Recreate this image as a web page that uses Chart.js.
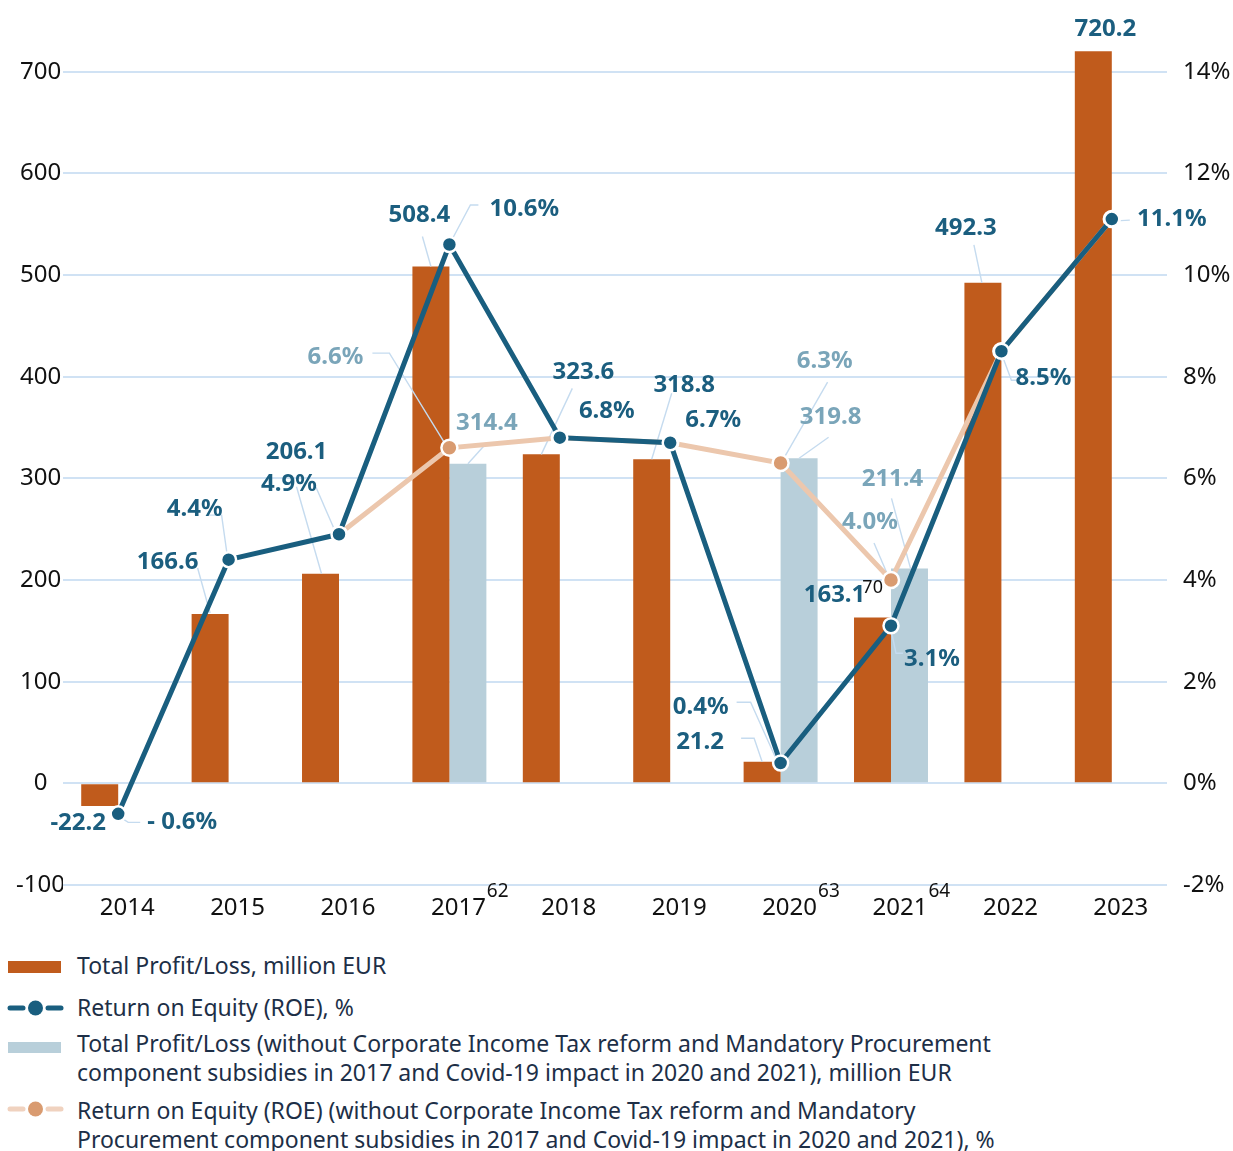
<!DOCTYPE html>
<html>
<head>
<meta charset="utf-8">
<title>Total Profit/Loss and Return on Equity 2014–2023</title>
<script src="https://cdn.jsdelivr.net/npm/chart.js@4/dist/chart.umd.min.js"></script>
<style>
  html, body { margin: 0; padding: 0; background: #fff; }
  body { width: 1233px; height: 1151px; position: relative; overflow: hidden; font-family: "Noto Sans", sans-serif; }
  #chartBox { position: absolute; left: 0; top: 0; width: 1233px; height: 930px; }
  .legend { position: absolute; left: 0; top: 0; width: 1233px; color: #1d2f47; font-size: 23px; line-height: 29px; }
  .item { position: absolute; left: 0; }
  .item .txt { position: absolute; left: 77px; white-space: nowrap; }
  .item svg { position: absolute; left: 0; }
</style>
</head>
<body>
<div id="chartBox"><canvas id="chart" width="1233" height="930"></canvas></div>

<div class="legend">
  <div class="item" style="top:951px">
    <svg width="70" height="29"><rect x="8" y="10" width="53" height="12" fill="#c05b1c"/></svg>
    <div class="txt">Total Profit/Loss, million EUR</div>
  </div>
  <div class="item" style="top:993px">
    <svg width="70" height="29">
      <line x1="10" y1="15" x2="23" y2="15" stroke="#195e7f" stroke-width="5" stroke-linecap="round"/>
      <line x1="48" y1="15" x2="61" y2="15" stroke="#195e7f" stroke-width="5" stroke-linecap="round"/>
      <circle cx="35.5" cy="15" r="7.5" fill="#195e7f"/>
    </svg>
    <div class="txt">Return on Equity (ROE), %</div>
  </div>
  <div class="item" style="top:1029px">
    <svg width="70" height="29"><rect x="8" y="13" width="53" height="11" fill="#b8cfda"/></svg>
    <div class="txt">Total Profit/Loss (without Corporate Income Tax reform and Mandatory Procurement<br>component subsidies in 2017 and Covid-19 impact in 2020 and 2021), million EUR</div>
  </div>
  <div class="item" style="top:1096px">
    <svg width="70" height="29">
      <line x1="10" y1="13" x2="23" y2="13" stroke="#f0d2bf" stroke-width="5" stroke-linecap="round"/>
      <line x1="48" y1="13" x2="61" y2="13" stroke="#f0d2bf" stroke-width="5" stroke-linecap="round"/>
      <circle cx="35.5" cy="13" r="7.5" fill="#d99b70"/>
    </svg>
    <div class="txt">Return on Equity (ROE) (without Corporate Income Tax reform and Mandatory<br>Procurement component subsidies in 2017 and Covid-19 impact in 2020 and 2021), %</div>
  </div>
</div>

<script>
// ---- data ----
const years = ['2014', '2015', '2016', '2017', '2018', '2019', '2020', '2021', '2022', '2023'];
const yearNotes = ['', '', '', '62', '', '', '63', '64', '', ''];
const profit = [-22.2, 166.6, 206.1, 508.4, 323.6, 318.8, 21.2, 163.1, 492.3, 720.2];
const profitAdjusted = [null, null, null, 314.4, null, null, 319.8, 211.4, null, null];
const roe = [-0.6, 4.4, 4.9, 10.6, 6.8, 6.7, 0.4, 3.1, 8.5, 11.1];
const roeAdjusted = [null, null, 4.9, 6.6, 6.8, 6.7, 6.3, 4.0, 8.5, 11.1];
const profitTicks = [-100, 0, 100, 200, 300, 400, 500, 600, 700];
const roeTicks = [-2, 0, 2, 4, 6, 8, 10, 12, 14];
const footnote2021Profit = '70';

// ---- colours & fonts ----
const C = {
  orange: '#c05b1c',
  lightBar: '#b8cfda',
  roe: '#195e7f',
  roeAdj: '#ecc7ad',
  roeAdjPoint: '#d99b70',
  labelDark: '#1b5e7f',
  labelLight: '#7aa5b9',
  leader: '#c5dbef',
  grid: '#d0e2f4',
  tick: '#111111'
};
const FONT = '"Noto Sans", sans-serif';
const TICK_SIZE = 24;
const LABEL_SIZE = 24;

// Label placement: offsets (px) from the element anchor; leader = polyline offsets.
const labelPlacement = [
  // Total Profit/Loss (dataset 0)
  { ds: 0, i: 0, dx: -21.5, dy: 17 },
  { ds: 0, i: 1, dx: -42.5, dy: -52, lead: [[-12.5, -46], [0, -1]] },
  { ds: 0, i: 2, dx: -24, dy: -122, lead: [[-24, -87], [1, 0]] },
  { ds: 0, i: 3, dx: -11.5, dy: -51, lead: [[-8.5, -30], [0, 0]] },
  { ds: 0, i: 4, dx: 42, dy: -82, lead: [[31, -66], [0, 0]] },
  { ds: 0, i: 5, dx: 32.5, dy: -74, lead: [[20, -66], [0, 0]] },
  { ds: 0, i: 6, dx: -62, dy: -19.5, lead: [[-21, -23.5], [-8, -23.5], [0, 0]] },
  { ds: 0, i: 7, dx: -38, dy: -22, note: footnote2021Profit },
  { ds: 0, i: 8, dx: -17, dy: -55, lead: [[-9, -38], [-1, 0]] },
  { ds: 0, i: 9, dx: 12, dy: -22 },
  // adjusted profit (dataset 1)
  { ds: 1, i: 3, dx: 19, dy: -41, lead: [[0, 0], [18, -20]] },
  { ds: 1, i: 6, dx: 31.5, dy: -41, lead: [[29.5, -21], [0, 0]] },
  { ds: 1, i: 7, dx: -17, dy: -89, lead: [[-18, -70], [1, 0]] },
  // ROE (dataset 2)
  { ds: 2, i: 0, dx: 64, dy: 8.5, lead: [[0, 2], [10, 8.5], [22, 8.5]] },
  { ds: 2, i: 1, dx: -34, dy: -50.5, lead: [[-21, -44.5], [-7, -44.5], [-1, -1.5]] },
  { ds: 2, i: 2, dx: -50, dy: -50, lead: [[-23, -47], [-3, -1]] },
  { ds: 2, i: 3, dx: 75, dy: -35.5, lead: [[29, -39.5], [21, -39.5], [0, 0]] },
  { ds: 2, i: 4, dx: 47, dy: -26.6 },
  { ds: 2, i: 5, dx: 43, dy: -22.6 },
  { ds: 2, i: 6, dx: -80, dy: -55.7, lead: [[-44, -60.7], [-30, -60.7], [-4, -3]] },
  { ds: 2, i: 7, dx: 41, dy: 33.5, lead: [[0, 4], [5, 27.5], [12, 27.5]] },
  { ds: 2, i: 8, dx: 42, dy: 27, lead: [[0, 2], [10, 29], [15, 29]] },
  { ds: 2, i: 9, dx: 60, dy: 0, lead: [[0, 2], [18, 1]] },
  // adjusted ROE (dataset 3)
  { ds: 3, i: 3, dx: -114, dy: -91, lead: [[-77, -94.7], [-60, -94.7], [-3, -2]] },
  { ds: 3, i: 6, dx: 44, dy: -102, lead: [[47, -81], [1, -1]] },
  { ds: 3, i: 7, dx: -21, dy: -58, lead: [[-17, -37], [-2, -2]] }
];

const fmtAmount = v => v.toFixed(1);
const fmtPercent = v => (v < 0 ? '- ' + Math.abs(v).toFixed(1) : v.toFixed(1)) + '%';
const isLight = ds => ds === 1 || ds === 3;

// Leader lines sit above the bars but below the ROE lines.
const leaderLines = {
  id: 'leaderLines',
  afterDatasetDraw(chart, args) {
    if (args.index !== 0) return;
    const ctx = chart.ctx;
    ctx.save();
    ctx.strokeStyle = C.leader;
    ctx.lineWidth = 1.4;
    labelPlacement.forEach(p => {
      if (!p.lead) return;
      const el = chart.getDatasetMeta(p.ds).data[p.i];
      ctx.beginPath();
      p.lead.forEach(([ox, oy], k) => {
        const x = el.x + ox, y = el.y + oy;
        if (k === 0) ctx.moveTo(x, y); else ctx.lineTo(x, y);
      });
      ctx.stroke();
    });
    ctx.restore();
  }
};

// Value labels, drawn on top of everything.
const valueLabels = {
  id: 'valueLabels',
  afterDatasetsDraw(chart) {
    const ctx = chart.ctx;
    ctx.save();
    ctx.textAlign = 'center';
    ctx.textBaseline = 'middle';
    labelPlacement.forEach(p => {
      const el = chart.getDatasetMeta(p.ds).data[p.i];
      const v = chart.data.datasets[p.ds].data[p.i];
      const text = p.ds < 2 ? fmtAmount(v) : fmtPercent(v);
      const x = el.x + p.dx, y = el.y + p.dy;
      ctx.font = 'bold ' + LABEL_SIZE + 'px ' + FONT;
      ctx.fillStyle = isLight(p.ds) ? C.labelLight : C.labelDark;
      ctx.fillText(text, x, y);
      if (p.note) {
        const w = ctx.measureText(text).width;
        ctx.font = '18px ' + FONT;
        ctx.fillStyle = C.tick;
        ctx.textAlign = 'left';
        ctx.fillText(p.note, x + w / 2 - 3, y - 8);
        ctx.textAlign = 'center';
      }
    });
    ctx.restore();
  }
};

// Footnote numbers next to the year labels.
const yearFootnotes = {
  id: 'yearFootnotes',
  afterDraw(chart) {
    const xs = chart.scales.x;
    const ctx = chart.ctx;
    ctx.save();
    yearNotes.forEach((note, i) => {
      if (!note) return;
      ctx.font = TICK_SIZE + 'px ' + FONT;
      const w = ctx.measureText(years[i]).width;
      const x = xs.getPixelForValue(i) + xs.options.ticks.labelOffset + w / 2 + 1;
      ctx.font = '19px ' + FONT;
      ctx.fillStyle = C.tick;
      ctx.textAlign = 'left';
      ctx.textBaseline = 'middle';
      ctx.fillText(note, x, 892);
    });
    ctx.restore();
  }
};

function build() {
  new Chart(document.getElementById('chart'), {
    data: {
      labels: years,
      datasets: [
        { type: 'bar', label: 'Total Profit/Loss, million EUR', data: profit, yAxisID: 'y',
          backgroundColor: C.orange, order: 2, categoryPercentage: 0.67, barPercentage: 1.0 },
        { type: 'bar', label: 'Total Profit/Loss (adjusted), million EUR', data: profitAdjusted, yAxisID: 'y',
          backgroundColor: C.lightBar, order: 2, categoryPercentage: 0.67, barPercentage: 1.0 },
        { type: 'line', label: 'Return on Equity (ROE), %', data: roe, yAxisID: 'y1',
          borderColor: C.roe, borderWidth: 5, backgroundColor: C.roe,
          pointRadius: 7.5, pointBackgroundColor: C.roe, pointBorderColor: '#ffffff', pointBorderWidth: 2.5,
          tension: 0, order: 0 },
        { type: 'line', label: 'Return on Equity (ROE) (adjusted), %', data: roeAdjusted, yAxisID: 'y1',
          borderColor: C.roeAdj, borderWidth: 5, backgroundColor: C.roeAdjPoint,
          pointRadius: 8, pointBackgroundColor: C.roeAdjPoint, pointBorderColor: '#ffffff', pointBorderWidth: 2.5,
          tension: 0, order: 1, spanGaps: false }
      ]
    },
    options: {
      responsive: false,
      animation: false,
      layout: { padding: { top: 31, left: 0, right: 0, bottom: 0 } },
      plugins: { legend: { display: false }, tooltip: { enabled: false } },
      scales: {
        x: {
          grid: { display: false },
          border: { display: false },
          ticks: { color: C.tick, font: { family: FONT, size: TICK_SIZE }, padding: 1, labelOffset: 9, maxRotation: 0 },
          afterFit(s) { s.height = 45; }
        },
        y: {
          position: 'left',
          min: -100, max: 740,
          afterBuildTicks(s) { s.ticks = profitTicks.map(v => ({ value: v })); },
          grid: { color: C.grid, lineWidth: 2, drawTicks: false },
          border: { display: false },
          ticks: { color: C.tick, font: { family: FONT, size: TICK_SIZE }, crossAlign: 'center', padding: -2 },
          afterFit(s) { s.width = 63; }
        },
        y1: {
          position: 'right',
          min: -2, max: 14.8,
          afterBuildTicks(s) { s.ticks = roeTicks.map(v => ({ value: v })); },
          grid: { display: false, drawTicks: false },
          border: { display: false },
          ticks: { color: C.tick, font: { family: FONT, size: TICK_SIZE }, padding: 16, callback: v => v + '%' },
          afterFit(s) { s.width = 66; }
        }
      }
    },
    plugins: [leaderLines, valueLabels, yearFootnotes]
  });
}

Promise.all([
  document.fonts.load(TICK_SIZE + 'px "Noto Sans"'),
  document.fonts.load('bold ' + LABEL_SIZE + 'px "Noto Sans"')
]).then(build, build);
</script>
</body>
</html>
